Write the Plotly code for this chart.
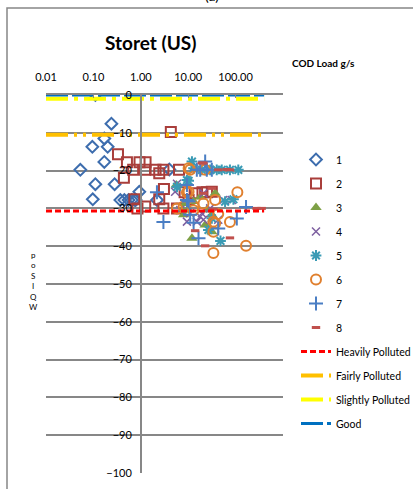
import plotly.graph_objects as go

# ---------------- data ----------------
series_names = ["1", "2", "3", "4", "5", "6", "7", "8"]

x1 = [0.11, 0.24, 0.17, 0.095, 0.20, 0.17, 0.053, 0.11, 0.28, 0.097, 0.37, 0.45, 0.55, 0.65, 0.78, 0.93, 0.75, 2.2, 4.0]
y1 = [0, -7.6, -11.5, -13.7, -13.7, -17.7, -19.8, -23.6, -23.6, -27.6, -27.8, -27.8, -27.8, -27.8, -27.8, -25.6, -27.8, -27.8, -19.7]

x2 = [4.3, 0.33, 0.51, 0.94, 1.26, 0.69, 1.23, 2.05, 2.45, 0.44, 3.0, 6.4, 3.08, 0.73, 0.85, 1.24, 2.45, 3.0, 5.8, 8.4, 10.2, 14, 20, 25, 31.5]
y2 = [-9.8, -15.7, -17.8, -17.8, -17.8, -19.8, -19.8, -19.8, -20.7, -21.9, -19.8, -19.8, -24.9, -27.6, -30, -29.5, -27.6, -30, -30, -25.7, -27.8, -26, -25.7, -25.7, -25.6]

x3 = [5.6, 7.4, 8.6, 10, 13, 12, 22.8, 24.7, 31.5, 37, 31.5, 8, 18]
y3 = [-23.8, -30.4, -28.7, -30.4, -28.2, -37.9, -34.4, -30.4, -36.2, -26, -31.7, -31.7, -27]

x4 = [5.3, 5.8, 6.8, 9.4, 11, 15.2, 17.9, 19.4, 21, 21, 29, 43, 55, 83]
y4 = [-25.6, -23.5, -30.4, -33.5, -31.3, -33.5, -32.2, -31.3, -26, -33, -30, -33, -27.8, -27.8]

x5 = [12, 13, 19.4, 29, 40, 51, 76, 114, 9.4, 10.2, 5.8, 60, 90, 31.5, 26.7, 48]
y5 = [-17.6, -19.4, -19.8, -19.8, -19.8, -19.8, -19.8, -19.8, -22.5, -22.7, -24.3, -28.2, -27.6, -32.6, -35.7, -38.6]

x6 = [10.2, 11, 22.8, 9.4, 10.2, 109, 37, 21, 13, 43, 5.8, 8, 34, 76, 37, 34, 166, 34, 12.9]
y6 = [-19.4, -19.8, -19.8, -25.8, -25.6, -25.7, -27.8, -28.7, -29.5, -31.5, -30, -29.5, -33.5, -33.6, -33.9, -36.2, -39.9, -41.8, -30.5]

x7 = [2.19, 3.0, 9.4, 11, 13, 10.2, 17.9, 22.8, 24.7, 15.2, 31.5, 166, 106, 43, 16.5, 9.4]
y7 = [-25.7, -33.6, -23.8, -31.7, -33.8, -28.2, -19.8, -17.6, -19.8, -19.8, -19.8, -29.6, -32.7, -35.3, -37.9, -27.8]

x8 = [21, 19.4, 43, 65, 76, 21, 31.5, 34, 14, 76, 22.8, 277, 355]
y8 = [-18, -18, -19.8, -19.7, -19.8, -26, -24.7, -30.2, -35.9, -37.8, -39.9, -30, -30]

class_names = ["Heavily Polluted", "Fairly Polluted", "Slightly Polluted", "Good"]
class_x = [0.01, 400]
class_levels = [-30.7, -10.5, -1, 0]

x_tickvals = [0.01, 0.1, 1, 10, 100]
x_ticktext = ["0.01", "0.10", "1.00", "10.00", "100.00"]
y_tickvals = [0, -10, -20, -30, -40, -50, -60, -70, -80, -90, -100]

# ---------------- styles ----------------
FONT = "Lato"
GRID = "#878787"
marker_styles = [
    dict(symbol="diamond-open", size=9, color="#3D6DAE", line=dict(width=2, color="#3D6DAE")),
    dict(symbol="square-open", size=10, color="#A93E3B", line=dict(width=2, color="#A93E3B")),
    dict(symbol="triangle-up", size=10, color="#7EA046", line=dict(width=0)),
    dict(symbol="x-thin-open", size=8, color="#7D5FA0", line=dict(width=1.5, color="#7D5FA0")),
    dict(symbol="asterisk-open", size=9, color="#3A9BB5", line=dict(width=2, color="#3A9BB5")),
    dict(symbol="circle-open", size=10, color="#E0802F", line=dict(width=2, color="#E0802F")),
    dict(symbol="cross-thin-open", size=10, color="#4A7EC4", line=dict(width=2, color="#4A7EC4")),
    dict(symbol="line-ew-open", size=6, color="#C0504D", line=dict(width=3, color="#C0504D")),
]
line_styles = [
    dict(color="#FF0000", width=3, dash="6px,3px"),
    dict(color="#FFC000", width=4, dash="22px,6px,3px,6px,3px,6px"),
    dict(color="#FFFF00", width=4, dash="22px,6px,4px,6px"),
    dict(color="#0070C0", width=3, dash="22px,4px"),
]

fig = go.Figure()
xs = [x1, x2, x3, x4, x5, x6, x7, x8]
ys = [y1, y2, y3, y4, y5, y6, y7, y8]
for i, (name, xv, yv) in enumerate(zip(series_names, xs, ys)):
    fig.add_trace(go.Scatter(x=xv, y=yv, mode="markers", name=name,
                             marker=marker_styles[i], legendgroup="g%d" % i))
for j, (name, lev) in enumerate(zip(class_names, class_levels)):
    fig.add_trace(go.Scatter(x=class_x, y=[lev, lev], mode="lines", name=name,
                             line=line_styles[j], legendgroup="h%d" % j))

L, R, T, B = 46, 130, 95, 16
W, H = 413, 489
pw, ph = W - L - R, H - T - B


def px2x(p):
    return (p - L) / pw


def px2y(p):
    return (H - B - p) / ph


annotations = [
    dict(text="<b>Storet (US)</b>", x=px2x(150), y=px2y(43), xref="paper", yref="paper",
         showarrow=False, font=dict(family=FONT, size=19, color="#000"), xanchor="center", yanchor="middle"),
    dict(text="<b>COD Load g/s</b>", x=px2x(323.5), y=px2y(63), xref="paper", yref="paper",
         showarrow=False, font=dict(family=FONT, size=10, color="#000"), xanchor="center", yanchor="middle"),
    dict(text="(a)", x=px2x(212), y=px2y(6), xref="paper", yref="paper",
         showarrow=False, font=dict(family=FONT, size=14, color="#000"), xanchor="center", yanchor="bottom"),
    dict(text="p<br>o<br>S<br>I<br>Q<br>W", x=px2x(33), y=px2y(281), xref="paper", yref="paper",
         showarrow=False, font=dict(family=FONT, size=8, color="#000"), xanchor="center", yanchor="middle"),
]

fig.update_layout(
    width=W, height=H,
    margin=dict(l=L, r=R, t=T, b=B, pad=0, autoexpand=False),
    paper_bgcolor="white", plot_bgcolor="white",
    font=dict(family=FONT, size=11, color="#000"),
    showlegend=True,
    legend=dict(x=px2x(296), y=px2y(145), xanchor="left", yanchor="top",
                font=dict(family=FONT, size=10.5, color="#000"),
                tracegroupgap=5, bgcolor="rgba(0,0,0,0)", itemwidth=30),
    xaxis=dict(type="log", range=[-2, 3], side="top", showgrid=False, zeroline=False,
               showline=True, linecolor=GRID, linewidth=1.5,
               tickvals=x_tickvals, ticktext=x_ticktext, ticks="inside", ticklen=3,
               tickcolor=GRID, ticklabelstandoff=8,
               tickfont=dict(family=FONT, size=11, color="#000")),
    yaxis=dict(range=[-100, 0], anchor="free", position=0.4, showgrid=True, gridcolor=GRID,
               gridwidth=1.5, zeroline=False, showline=True, linecolor=GRID, linewidth=1.5,
               tickvals=y_tickvals, ticks="", ticklabelstandoff=6,
               tickfont=dict(family=FONT, size=11, color="#000")),
    annotations=annotations,
    shapes=[dict(type="rect", xref="paper", yref="paper", x0=px2x(7), x1=px2x(700),
                 y0=px2y(800), y1=px2y(8), line=dict(color=GRID, width=1.5), layer="below")],
)

fig.write_html("out.html", config={"displayModeBar": False},
               post_script="document.body.style.margin='0';document.body.style.padding='0';")
